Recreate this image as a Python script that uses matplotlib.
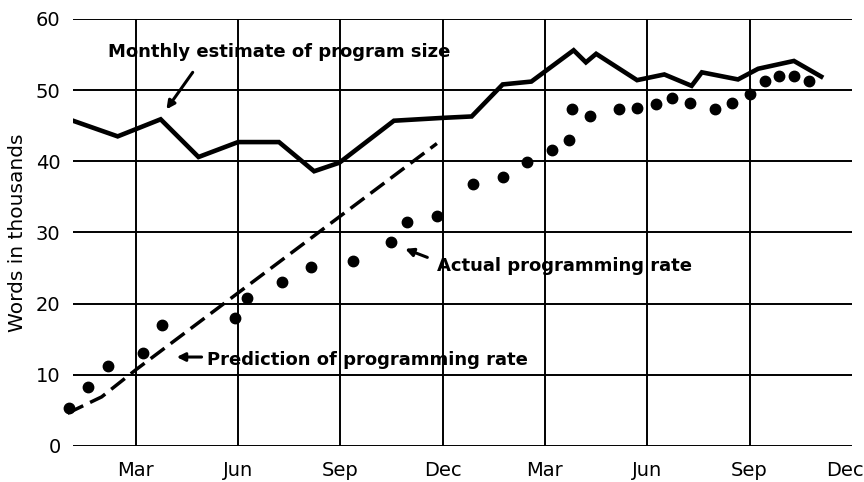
import matplotlib.pyplot as plt
from matplotlib.transforms import ScaledTranslation

# months counted from January of year 1 (Mar=3 ... Dec of year 2 = 24)
size_month = [1.16, 2.47, 3.73, 4.84, 6.0, 7.2, 8.23, 8.97, 10.57, 12.0, 12.85,
              13.76, 14.6, 15.84, 16.2, 16.5, 17.7, 18.5, 19.3, 19.6, 20.66,
              21.25, 22.3, 23.1]
size_words = [45.7, 43.5, 45.9, 40.6, 42.7, 42.7, 38.6, 39.8, 45.7, 46.1, 46.3,
              50.8, 51.2, 55.6, 53.9, 55.1, 51.4, 52.2, 50.6, 52.5, 51.5,
              53.0, 54.1, 51.9]

pred_month = [1.0, 2.0, 3.0, 11.83]
pred_words = [4.6, 6.9, 10.7, 42.5]

actual_month = [1.04, 1.6, 2.18, 3.2, 3.76, 5.9, 6.27, 7.3, 8.15, 9.37, 10.48,
                10.95, 11.83, 12.9, 13.77, 14.46, 15.22, 15.69, 15.8, 16.33,
                17.18, 17.7, 18.26, 18.73, 19.26, 19.99, 20.48, 21.0, 21.45,
                21.86, 22.3, 22.74]
actual_words = [5.3, 8.3, 11.3, 13.1, 17.0, 18.0, 20.8, 23.1, 25.2, 26.0, 28.7,
                31.5, 32.3, 36.8, 37.8, 39.9, 41.6, 43.0, 47.3, 46.3,
                47.4, 47.5, 48.1, 48.9, 48.2, 47.4, 48.2, 49.4, 51.3,
                52.0, 52.0, 51.3]

tick_pos = [3, 6, 9, 12, 15, 18, 21, 24]
tick_labels = ['Mar', 'Jun', 'Sep', 'Dec', 'Mar', 'Jun', 'Sep', 'Dec']

fig = plt.figure(figsize=(8.64, 4.82), dpi=100)
ax = fig.add_axes([0.0845, 0.0747, 0.9015, 0.886])

# grid drawn by hand (no line at the right edge)
for v in range(0, 61, 10):
    ax.axhline(v, color='black', lw=1.4, zorder=1)
for m in tick_pos[:-1]:
    ax.axvline(m, color='black', lw=1.4, zorder=1)

ax.plot(size_month, size_words, color='black', lw=3.3, solid_joinstyle='miter', zorder=3)
ax.plot(pred_month, pred_words, color='black', lw=2.5, dashes=(5, 2.2), zorder=3,
        clip_on=False)
ax.plot(actual_month, actual_words, 'o', color='black', ms=7.5, zorder=3, clip_on=False)

ax.set_xlim(1.16, 24)
ax.set_ylim(0, 60)
ax.set_xticks(tick_pos)
ax.set_xticklabels(tick_labels)
ax.set_yticks(range(0, 61, 10))
ax.tick_params(length=0, labelsize=14)
ax.tick_params(axis='x', pad=11)
ax.tick_params(axis='y', pad=9)
for s in ax.spines.values():
    s.set_visible(False)
ax.set_ylabel('Words in thousands', fontsize=14.5, labelpad=6)

# last "Dec" sits at the very edge, nudge it in a bit
last = ax.get_xticklabels()[-1]
last.set_transform(last.get_transform() + ScaledTranslation(-7 / 100, 0, fig.dpi_scale_trans))

arrow = dict(arrowstyle='-|>', color='black', lw=2.2, mutation_scale=12,
             shrinkA=0, shrinkB=0)
ax.text(2.18, 55.4, 'Monthly estimate of program size',
        fontsize=13, fontweight='bold', va='center', ha='left')
ax.annotate('', xy=(3.9, 47.3), xytext=(4.67, 52.5), arrowprops=arrow)
ax.text(11.83, 25.3, 'Actual programming rate',
        fontsize=13, fontweight='bold', va='center', ha='left')
ax.annotate('', xy=(10.9, 27.7), xytext=(11.55, 26.5), arrowprops=arrow)
ax.text(5.1, 12.1, 'Prediction of programming rate',
        fontsize=13, fontweight='bold', va='center', ha='left')
ax.annotate('', xy=(4.2, 12.5), xytext=(4.93, 12.5), arrowprops=arrow)

fig.savefig('out.png', dpi=100)
